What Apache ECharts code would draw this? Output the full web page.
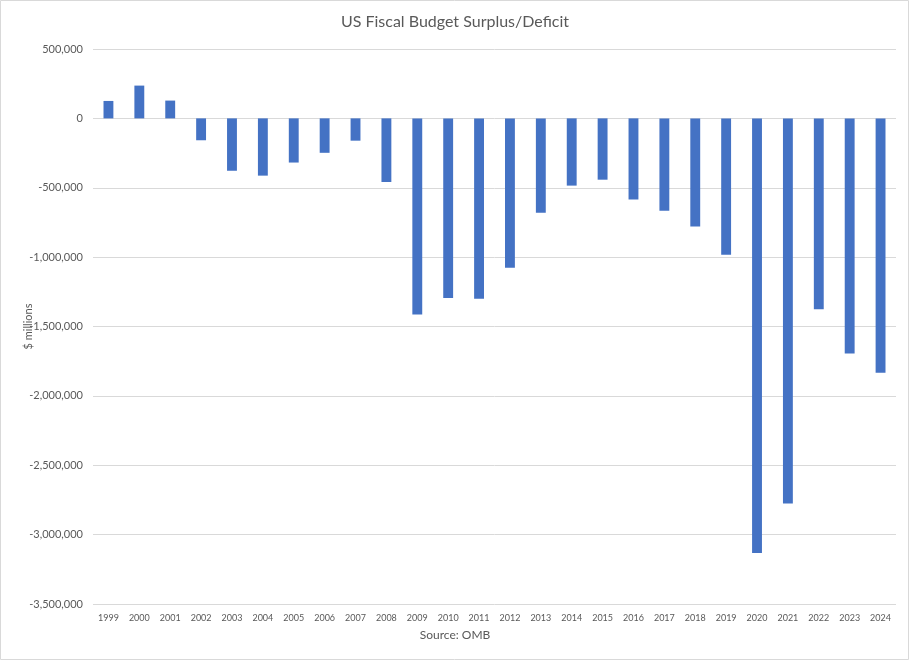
<!DOCTYPE html>
<html><head><meta charset="utf-8">
<script src="https://cdn.jsdelivr.net/npm/echarts@6/dist/echarts.min.js"></script>
<style>html,body{margin:0;padding:0;background:#fff}#c{width:910px;height:661px}</style>
</head><body><div id="c"></div>
<script>
const years = ['1999','2000','2001','2002','2003','2004','2005','2006','2007','2008','2009','2010','2011','2012','2013','2014','2015','2016','2017','2018','2019','2020','2021','2022','2023','2024'];
const surplus = [125610,236241,128236,-157758,-377585,-412727,-318346,-248181,-160701,-458553,-1412688,-1294373,-1299593,-1076573,-679502,-484598,-441960,-584651,-665802,-779137,-983588,-3132460,-2775319,-1375906,-1694000,-1833000];
const yMin = -3500000, yMax = 500000, yStep = 500000;

const chart = echarts.init(document.getElementById('c'));
const fmt = v => (v < 0 ? '-' : '') + Math.abs(v).toString().replace(/\B(?=(\d{3})+(?!\d))/g, ',');
chart.setOption({
  animation: false,
  textStyle: {fontFamily: 'Lato'},
  title: {text: 'US Fiscal Budget Surplus/Deficit', left: 'center', top: 9,
    textStyle: {fontSize: 16, fontWeight: 'normal', color: '#595959', fontFamily: 'Lato'}},
  graphic: [
    {type: 'rect', shape: {x: 0.5, y: 0.5, width: 908, height: 659}, style: {fill: 'none', stroke: '#d9d9d9', lineWidth: 1}, silent: true},
    {type: 'text', left: 'center', top: 629, style: {text: 'Source: OMB', fill: '#595959', font: '12px Lato'}, x: 40}
  ],
  grid: {left: 93, right: 14, top: 49, bottom: 57},
  xAxis: {type: 'category', data: years,
    axisLine: {show: false}, axisTick: {show: false},
    axisLabel: {color: '#595959', fontSize: 9, margin: 10}},
  yAxis: {type: 'value', min: yMin, max: yMax, interval: yStep,
    name: '$ millions', nameLocation: 'middle', nameGap: 59, nameRotate: 90, nameMoveOverlap: false,
    nameTextStyle: {color: '#595959', fontSize: 11},
    axisLine: {show: false}, axisTick: {show: false},
    axisLabel: {color: '#595959', fontSize: 11, margin: 10, formatter: fmt},
    splitLine: {lineStyle: {color: '#d9d9d9', width: 1}}},
  series: [{type: 'bar', data: surplus, barWidth: '32%', itemStyle: {color: '#4472c4'}}]
});
</script></body></html>
